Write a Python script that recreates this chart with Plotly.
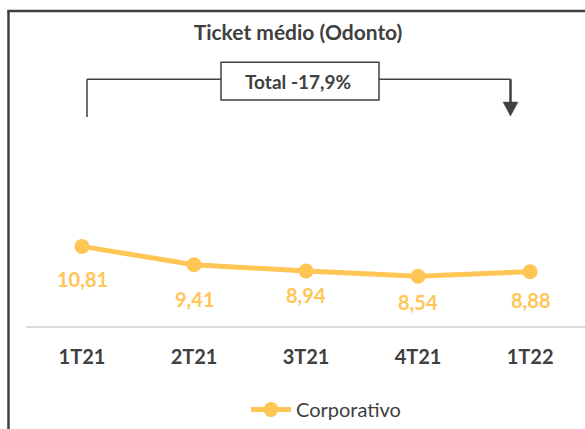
import plotly.graph_objects as go

# ---- data ----
categories = ["1T21", "2T21", "3T21", "4T21", "1T22"]
corporativo = [10.81, 9.41, 8.94, 8.54, 8.88]
value_labels = ["10,81", "9,41", "8,94", "8,54", "8,88"]
series_name = "Corporativo"
chart_title = "Ticket médio (Odonto)"
total_label = "Total -17,9%"

# ---- style / layout ----
W, H = 585, 429
S = 0  # page body offset (body margin removed below)
# plot area in screen px: x 26..586, y 120..327
L, R = 26 - S, 0
T, B = 120 - S, H - (327 - S)
label_offsets = [33, 34, 24, 26, 28]  # px below each point
YELLOW = "#FFC555"
DARK = "#404040"
FONT = "Lato"

pw = W - L - R
ph = H - T - B


def px(x):
    """screen x -> paper x"""
    return (x - S - L) / pw


def py(y):
    """screen y -> paper y"""
    return 1 - (y - S - T) / ph


fig = go.Figure()
fig.add_trace(go.Scatter(
    x=categories, y=corporativo, mode="lines+markers", name=series_name,
    line=dict(color=YELLOW, width=5),
    marker=dict(color=YELLOW, size=15),
))

annotations = []
for c, v, t, off in zip(categories, corporativo, value_labels, label_offsets):
    annotations.append(dict(
        x=c, y=v, xref="x", yref="y", text=t, showarrow=False,
        yshift=-off, xanchor="center", yanchor="middle",
        font=dict(family=FONT, size=20, color=YELLOW, weight="bold"),
    ))

# Total box
annotations.append(dict(
    x=px(298), y=py(81), xref="paper", yref="paper", text=total_label,
    showarrow=False, xanchor="center", yanchor="middle",
    font=dict(family=FONT, size=19, color=DARK, weight="bold"),
))

lc = dict(color=DARK, width=1.5)
border = dict(color=DARK, width=2.5)
shapes = [
    # outer border (only top and left edges are visible)
    dict(type="line", xref="paper", yref="paper",
         x0=px(8.5), x1=px(8.5), y0=py(700), y1=py(10.5), line=border),
    dict(type="line", xref="paper", yref="paper",
         x0=px(7.3), x1=px(700), y0=py(10.5), y1=py(10.5), line=border),
    # bracket
    dict(type="line", xref="paper", yref="paper", x0=px(87), x1=px(87), y0=py(117), y1=py(79), line=lc),
    dict(type="line", xref="paper", yref="paper", x0=px(87), x1=px(221), y0=py(79), y1=py(79), line=lc),
    dict(type="rect", xref="paper", yref="paper", x0=px(221), x1=px(379), y0=py(100), y1=py(62),
         line=lc, fillcolor="white"),
    dict(type="line", xref="paper", yref="paper", x0=px(379), x1=px(510.5), y0=py(79), y1=py(79), line=lc),
    dict(type="line", xref="paper", yref="paper", x0=px(510.5), x1=px(510.5), y0=py(79), y1=py(103),
         line=dict(color=DARK, width=2.5)),
    dict(type="path", xref="paper", yref="paper",
         path=f"M{px(503)},{py(102)} L{px(518)},{py(102)} L{px(510.5)},{py(116)} Z",
         fillcolor=DARK, line=dict(color=DARK, width=0.5)),
]

fig.update_layout(
    width=W, height=H,
    margin=dict(l=L, r=R, t=T, b=B),
    paper_bgcolor="white", plot_bgcolor="white",
    font=dict(family=FONT, color=DARK),
    title=dict(text=chart_title, x=(298 - S) / W, xanchor="center", y=1 - (33 - S) / H, yanchor="middle",
               font=dict(family=FONT, size=21, color=DARK, weight="bold")),
    xaxis=dict(range=[-0.5, 4.49], showgrid=False, zeroline=False, showline=True,
               linecolor="#D9D9D9", linewidth=2, ticks="", ticklabelstandoff=12,
               tickfont=dict(family=FONT, size=20, color=DARK, weight="bold")),
    yaxis=dict(range=[4.75, 20.43], visible=False),
    showlegend=True,
    legend=dict(orientation="h", x=px(246), xanchor="left", y=py(411), yanchor="middle",
                font=dict(family=FONT, size=20, color=DARK), itemwidth=40,
                bgcolor="rgba(0,0,0,0)"),
    annotations=annotations,
    shapes=shapes,
)

fig.write_html(
    "out.html",
    config={"displayModeBar": False},
    post_script="document.body.style.margin='0';document.body.style.overflow='hidden';",
)
